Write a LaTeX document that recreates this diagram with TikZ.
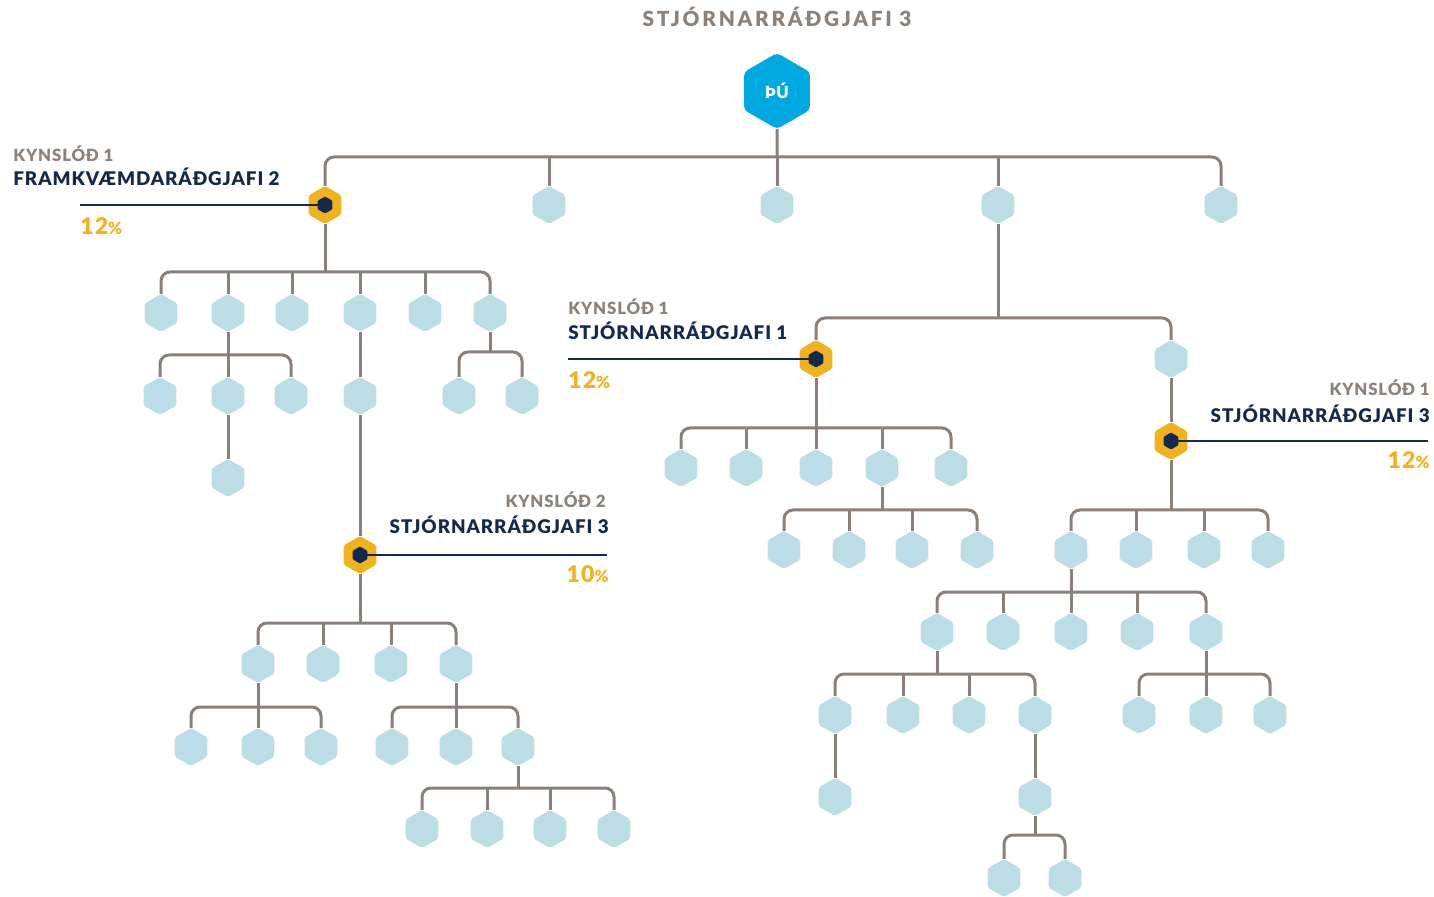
\documentclass[tikz,border=0pt]{standalone}
\usepackage{fontspec}
\setmainfont{Lato}
\newfontfamily\lblfont{Lato}[BoldFont={Lato Black}, LetterSpace=5]
\newfontfamily\ttlfont{Lato}[BoldFont={Lato Black}, LetterSpace=13]
\usetikzlibrary{shapes.geometric,backgrounds}

\definecolor{linkgray}{RGB}{138,128,121}
\definecolor{textgray}{RGB}{140,130,122}
\definecolor{navy}{RGB}{19,42,77}
\definecolor{hexgold}{RGB}{240,178,33}
\definecolor{hexblue}{RGB}{187,221,230}
\definecolor{topblue}{RGB}{0,168,224}

\newcommand\pc{{\fontsize{8.4}{10}\selectfont\%}}

\tikzset{
  hexnode/.style={regular polygon, regular polygon sides=6, shape border rotate=30,
    minimum size=19pt, inner sep=0pt, outer sep=0pt, fill=hexblue, rounded corners=1pt},
  goldhex/.style={hexnode, fill=hexgold},
  dothex/.style={hexnode, minimum size=8.5pt, fill=navy, rounded corners=0.5pt},
  tophex/.style={hexnode, minimum size=38pt, fill=topblue, rounded corners=2pt,
    text=white, font=\lblfont\bfseries\fontsize{8.3}{10}\selectfont},
  link/.style={draw=linkgray, line width=1.5pt, rounded corners=4.5pt},
  pointer/.style={draw=navy, line width=1.2pt},
  ttl/.style={text=textgray, inner sep=0pt, font=\ttlfont\bfseries\fontsize{10.4}{12}\selectfont},
  kyn/.style={text=textgray, inner sep=0pt, font=\lblfont\bfseries\fontsize{8.4}{10}\selectfont},
  role/.style={text=navy, inner sep=0pt, font=\lblfont\bfseries\fontsize{9.4}{11}\selectfont},
  pct/.style={text=hexgold, inner sep=0pt, font=\lblfont\bfseries\fontsize{11.5}{13}\selectfont},
}

\begin{document}
\begin{tikzpicture}[x=0.5pt,y=-0.5pt]
  \useasboundingbox (0,0) rectangle (1434,897);

  \node[ttl, anchor=base] (title) at (777,27) {STJÓRNARRÁÐGJAFI 3};
  \node[tophex] (top) at (777,91) {ÞÚ};

  % first row
  \node[goldhex] (k1) at (325,205) {};
  \foreach \x [count=\i from 2] in {549,777,998,1221}
    \node[hexnode] (k\i) at (\x,205) {};

  % left branch
  \foreach \x [count=\i] in {161,228,292,360,425,490}
    \node[hexnode] (a\i) at (\x,313) {};
  \foreach \x [count=\i] in {160,228,291}
    \node[hexnode] (b\i) at (\x,396) {};
  \node[hexnode] (c1) at (228,478) {};
  \node[hexnode] (a4x) at (360,396) {};
  \node[hexnode] (d1) at (459,396) {};
  \node[hexnode] (d2) at (522,396) {};

  % kynslod 2
  \node[goldhex] (gB) at (360,555) {};
  \foreach \x [count=\i] in {258,323,391,456}
    \node[hexnode] (e\i) at (\x,664) {};
  \foreach \x [count=\i] in {191,258,321}
    \node[hexnode] (f\i) at (\x,747) {};
  \foreach \x [count=\i] in {392,456,518}
    \node[hexnode] (g\i) at (\x,747) {};
  \foreach \x [count=\i] in {422,487,550,614}
    \node[hexnode] (h\i) at (\x,829) {};

  % right branch
  \node[goldhex] (gD) at (816,359) {};
  \node[hexnode] (m1) at (1171,359) {};
  \node[goldhex] (gF) at (1171,441) {};
  \foreach \x [count=\i] in {681,746,816,882,951}
    \node[hexnode] (p\i) at (\x,468) {};
  \foreach \x [count=\i] in {784,849,912,977}
    \node[hexnode] (q\i) at (\x,550) {};
  \foreach \x [count=\i] in {1071,1136,1204,1268}
    \node[hexnode] (r\i) at (\x,550) {};
  \foreach \x [count=\i] in {937,1003,1071,1137,1206}
    \node[hexnode] (s\i) at (\x,632) {};
  \foreach \x [count=\i] in {835,903,969,1035}
    \node[hexnode] (t\i) at (\x,715) {};
  \foreach \x [count=\i] in {1139,1206,1270}
    \node[hexnode] (w\i) at (\x,715) {};
  \node[hexnode] (u1) at (835,797) {};
  \node[hexnode] (u2) at (1035,797) {};
  \node[hexnode] (v1) at (1004,878) {};
  \node[hexnode] (v2) at (1065,878) {};

  % bar heights
  \coordinate (row0) at (0,157);
  \coordinate (row1) at (0,272);
  \coordinate (row2) at (0,355);
  \coordinate (row3) at (0,352);
  \coordinate (row4) at (0,623);
  \coordinate (row5) at (0,707);
  \coordinate (row6) at (0,788);
  \coordinate (row7) at (0,318);
  \coordinate (row8) at (0,428);
  \coordinate (row9) at (0,510);
  \coordinate (row10) at (0,592);
  \coordinate (row11) at (0,674);
  \coordinate (row12) at (0,835);

  \begin{scope}[on background layer]
    \draw[link] (k1) |- (row0 -| k5) -- (k5);
    \foreach \n in {k2,k3,k4,top}
      \draw[link] (\n) -- (row0 -| \n);
    \draw[link] (a1) |- (row1 -| a6) -- (a6);
    \foreach \n in {a2,a3,a4,a5,k1}
      \draw[link] (\n) -- (row1 -| \n);
    \draw[link] (b1) |- (row2 -| b3) -- (b3);
    \draw[link] (a2) -- (b2) -- (c1);
    \draw[link] (d1) |- (row3 -| d2) -- (d2);
    \draw[link] (a6) -- (row3 -| a6);
    \draw[link] (a4) -- (a4x) -- (gB);
    \draw[link] (e1) |- (row4 -| e4) -- (e4);
    \foreach \n in {e2,e3,gB}
      \draw[link] (\n) -- (row4 -| \n);
    \draw[link] (f1) |- (row5 -| f3) -- (f3);
    \draw[link] (e1) -- (f2);
    \draw[link] (g1) |- (row5 -| g3) -- (g3);
    \draw[link] (e4) -- (g2);
    \draw[link] (h1) |- (row6 -| h4) -- (h4);
    \foreach \n in {h2,h3,g3}
      \draw[link] (\n) -- (row6 -| \n);
    % right side
    \draw[link] (k4) -- (row7 -| k4);
    \draw[link] (gD) |- (row7 -| m1) -- (m1);
    \draw[link] (m1) -- (gF);
    \draw[link] (p1) |- (row8 -| p5) -- (p5);
    \foreach \n in {p2,p4}
      \draw[link] (\n) -- (row8 -| \n);
    \draw[link] (gD) -- (p3);
    \draw[link] (q1) |- (row9 -| q4) -- (q4);
    \foreach \n in {q2,q3,p4}
      \draw[link] (\n) -- (row9 -| \n);
    \draw[link] (r1) |- (row9 -| r4) -- (r4);
    \foreach \n in {r2,r3,gF}
      \draw[link] (\n) -- (row9 -| \n);
    \draw[link] (s1) |- (row10 -| s5) -- (s5);
    \foreach \n in {s2,s4}
      \draw[link] (\n) -- (row10 -| \n);
    \draw[link] (r1) -- (s3);
    \draw[link] (t1) |- (row11 -| t4) -- (t4);
    \foreach \n in {t2,t3,s1}
      \draw[link] (\n) -- (row11 -| \n);
    \draw[link] (w1) |- (row11 -| w3) -- (w3);
    \draw[link] (s5) -- (w2);
    \draw[link] (t1) -- (u1);
    \draw[link] (t4) -- (u2);
    \draw[link] (v1) |- (row12 -| v2) -- (v2);
    \draw[link] (u2) -- (row12 -| u2);
  \end{scope}

  % labels
  \node[dothex] (k1dot) at (k1) {};
  \coordinate (k1end) at (80,205);
  \draw[pointer] (k1end) -- (k1dot);
  \node[kyn, anchor=base west] (k1kyn) at (13,162) {KYNSLÓÐ 1};
  \node[role, anchor=base west] (k1role) at (13,186) {FRAMKVÆMDARÁÐGJAFI 2};
  \node[pct, anchor=base west] (k1pct) at (80,235) {12\pc};

  \node[dothex] (gDdot) at (gD) {};
  \coordinate (gDend) at (568,359);
  \draw[pointer] (gDend) -- (gDdot);
  \node[kyn, anchor=base west] (gDkyn) at (568,315) {KYNSLÓÐ 1};
  \node[role, anchor=base west] (gDrole) at (568,340) {STJÓRNARRÁÐGJAFI 1};
  \node[pct, anchor=base west] (gDpct) at (568,389) {12\pc};

  \node[dothex] (gFdot) at (gF) {};
  \coordinate (gFend) at (1428,441);
  \draw[pointer] (gFend) -- (gFdot);
  \node[kyn, anchor=base east] (gFkyn) at (1430,396) {KYNSLÓÐ 1};
  \node[role, anchor=base east] (gFrole) at (1430,423) {STJÓRNARRÁÐGJAFI 3};
  \node[pct, anchor=base east] (gFpct) at (1430,469) {12\pc};

  \node[dothex] (gBdot) at (gB) {};
  \coordinate (gBend) at (607,555);
  \draw[pointer] (gBend) -- (gBdot);
  \node[kyn, anchor=base east] (gBkyn) at (606,508) {KYNSLÓÐ 2};
  \node[role, anchor=base east] (gBrole) at (609,534) {STJÓRNARRÁÐGJAFI 3};
  \node[pct, anchor=base east] (gBpct) at (609,582) {10\pc};
\end{tikzpicture}
\end{document}
